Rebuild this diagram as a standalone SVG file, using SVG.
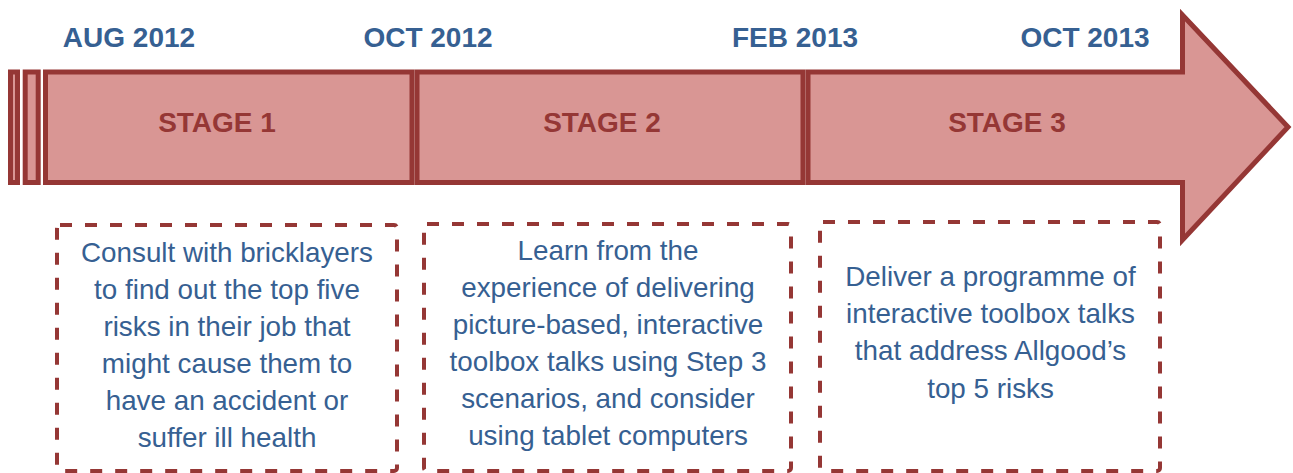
<svg xmlns="http://www.w3.org/2000/svg" width="1293" height="473" viewBox="0 0 1293 473">
  <style>
    .band { fill: #D99694; stroke: #953735; stroke-width: 5; stroke-linejoin: miter; }
    .date { font-family: "Liberation Sans", Arial, sans-serif; font-weight: bold; font-size: 28px; fill: #366092; text-anchor: middle; }
    .stage { font-family: "Liberation Sans", Arial, sans-serif; font-weight: bold; font-size: 28px; fill: #953735; text-anchor: middle; }
    .box { fill: none; stroke: #953735; stroke-width: 4; stroke-dasharray: 12 13; }
    .body { font-family: "Liberation Sans", Arial, sans-serif; font-size: 27.8px; fill: #366092; text-anchor: middle; }
  </style>

  <rect width="1293" height="473" fill="#ffffff"/>

  <!-- date labels -->
  <g id="dates">
    <text class="date" x="129" y="47">AUG 2012</text>
    <text class="date" x="428" y="47">OCT 2012</text>
    <text class="date" x="795" y="47">FEB 2013</text>
    <text class="date" x="1085" y="47">OCT 2013</text>
  </g>

  <!-- thin lead-in strips at the tail of the arrow -->
  <g id="tail">
    <rect class="band" x="10.5" y="72" width="7" height="110.5"/>
    <rect class="band" x="25.2" y="72" width="13" height="110.5"/>
  </g>

  <g id="stage1">
    <rect class="band" x="45.5" y="72" width="366.5" height="110.5"/>
    <text class="stage" x="217" y="132">STAGE 1</text>
  </g>

  <g id="stage2">
    <rect class="band" x="417" y="72" width="386" height="110.5"/>
    <text class="stage" x="602" y="132">STAGE 2</text>
  </g>

  <g id="stage3">
    <path class="band" d="M808 72 H1182.5 V15 L1288 127 L1182.5 240 V182.5 H808 Z"/>
    <text class="stage" x="1007" y="132">STAGE 3</text>
  </g>

  <g id="box1">
    <rect class="box" x="57" y="225" width="340" height="246" rx="3"/>
    <text class="body" x="227" y="262">Consult with bricklayers</text>
    <text class="body" x="227" y="299">to find out the top five</text>
    <text class="body" x="227" y="336">risks in their job that</text>
    <text class="body" x="227" y="373">might cause them to</text>
    <text class="body" x="227" y="410">have an accident or</text>
    <text class="body" x="227" y="447">suffer ill health</text>
  </g>

  <g id="box2">
    <rect class="box" x="424" y="224" width="367" height="247" rx="3"/>
    <text class="body" x="608" y="260">Learn from the</text>
    <text class="body" x="608" y="297">experience of delivering</text>
    <text class="body" x="608" y="334">picture-based, interactive</text>
    <text class="body" x="608" y="371">toolbox talks using Step 3</text>
    <text class="body" x="608" y="408">scenarios, and consider</text>
    <text class="body" x="608" y="445">using tablet computers</text>
  </g>

  <g id="box3">
    <rect class="box" x="820" y="222" width="340" height="249" rx="3"/>
    <text class="body" x="990.5" y="286">Deliver a programme of</text>
    <text class="body" x="990.5" y="323">interactive toolbox talks</text>
    <text class="body" x="990.5" y="360">that address Allgood’s</text>
    <text class="body" x="990.5" y="398">top 5 risks</text>
  </g>

  <!-- no connectors in this diagram -->
  <g id="connectors"/>
</svg>
